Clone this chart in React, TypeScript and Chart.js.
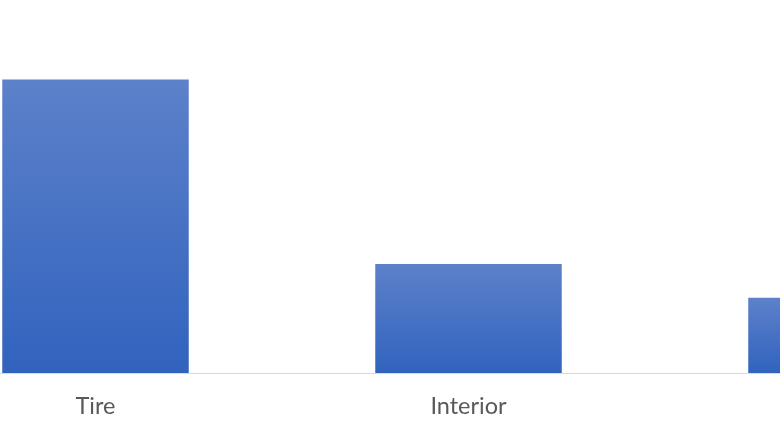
import { useEffect, useRef } from 'react'
import { Chart, registerables, type ChartConfiguration } from 'chart.js'

Chart.register(...registerables)

// the picture is a crop: the third bar runs off the right edge
const categories = ['Tire', 'Interior', 'Exterior']
const values = [78, 29, 20]
const yMax = 80

const TOP_COLOR = '#5d81ca'
const BOTTOM_COLOR = '#3163be'

export default function App() {
  const canvasRef = useRef<HTMLCanvasElement>(null)
  const chartRef = useRef<Chart | null>(null)

  useEffect(() => {
    if (!canvasRef.current) return

    const config: ChartConfiguration<'bar'> = {
      type: 'bar',
      data: {
        labels: categories,
        datasets: [
          {
            data: values,
            // each bar gets its own light-to-dark gradient
            backgroundColor: (ctx) => {
              const chart = ctx.chart
              const area = chart.chartArea
              if (!area || ctx.type !== 'data') return BOTTOM_COLOR
              const y = chart.scales.y
              const top = y.getPixelForValue(ctx.parsed.y)
              const base = y.getPixelForValue(0)
              const g = chart.ctx.createLinearGradient(0, top, 0, base)
              g.addColorStop(0, TOP_COLOR)
              g.addColorStop(1, BOTTOM_COLOR)
              return g
            },
            borderWidth: 0,
            categoryPercentage: 1,
            barPercentage: 0.5,
          },
        ],
      },
      options: {
        responsive: false,
        maintainAspectRatio: false,
        animation: false,
        layout: { padding: { top: 72, left: 0, right: 0, bottom: 0 } },
        plugins: { legend: { display: false }, tooltip: { enabled: false }, title: { display: false } },
        scales: {
          x: {
            grid: { display: false, drawTicks: false },
            border: { display: true, color: '#d9d9d9', width: 1 },
            ticks: {
              color: '#595959',
              padding: 19,
              font: { family: 'Lato, "Open Sans", sans-serif', size: 23.5 },
            },
            afterFit: (scale) => { scale.height = 67 },
          },
          y: {
            display: false,
            min: 0,
            max: yMax,
          },
        },
      },
    }
    chartRef.current = new Chart(canvasRef.current, config)

    return () => { chartRef.current?.destroy(); chartRef.current = null }
  }, [])

  return (
    <div style={{ position: 'fixed', left: 0, top: 0, width: 780, height: 440, overflow: 'hidden', background: '#fff' }}>
      <canvas
        ref={canvasRef}
        width={1119}
        height={440}
        style={{ position: 'absolute', left: -91, top: 0 }}
      />
    </div>
  )
}
